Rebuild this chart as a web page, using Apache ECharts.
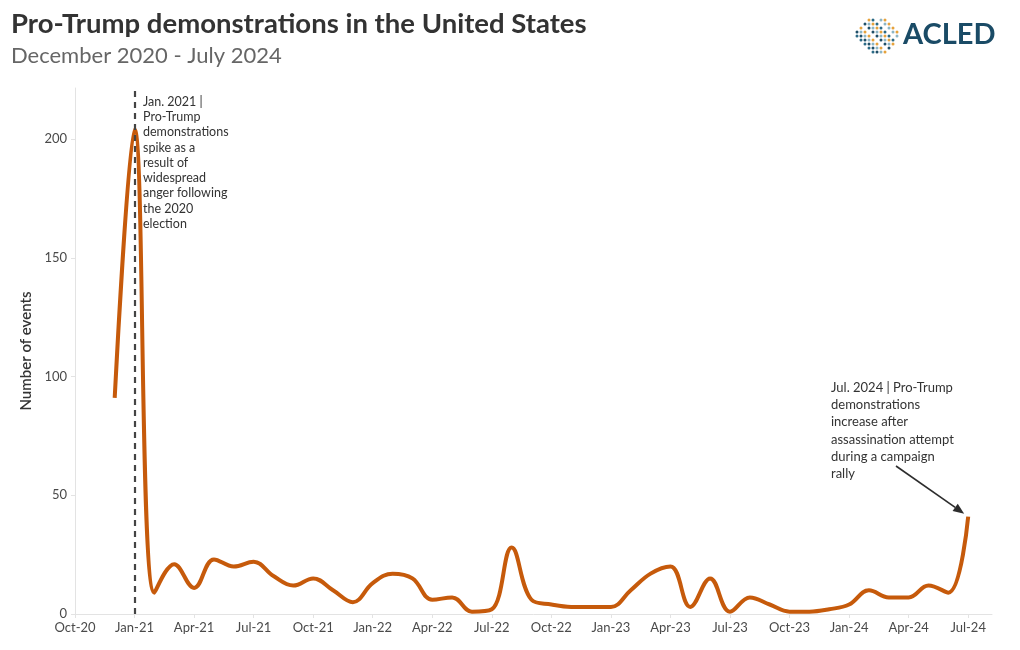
<!DOCTYPE html>
<html>
<head>
<meta charset="utf-8">
<script src="https://cdn.jsdelivr.net/npm/echarts@6/dist/echarts.min.js"></script>
<style>
html,body{margin:0;padding:0;background:#fff;}
#chart{width:1020px;height:650px;}
</style>
</head>
<body>
<div id="chart"></div>
<script>
// Monthly data, December 2020 - July 2024
const months = ['Dec-20',
  'Jan-21','Feb-21','Mar-21','Apr-21','May-21','Jun-21','Jul-21','Aug-21','Sep-21','Oct-21','Nov-21','Dec-21',
  'Jan-22','Feb-22','Mar-22','Apr-22','May-22','Jun-22','Jul-22','Aug-22','Sep-22','Oct-22','Nov-22','Dec-22',
  'Jan-23','Feb-23','Mar-23','Apr-23','May-23','Jun-23','Jul-23','Aug-23','Sep-23','Oct-23','Nov-23','Dec-23',
  'Jan-24','Feb-24','Mar-24','Apr-24','May-24','Jun-24','Jul-24'];
const events = [91,
  204, 9, 21, 11, 23, 20, 22, 16, 12, 15, 10, 5,
  13, 17, 15, 6, 7, 1, 2, 28, 6, 4, 3, 3,
  3, 10, 17, 20, 3, 15, 1, 7, 4, 1, 1, 2,
  4, 10, 7, 7, 12, 9, 41];
// x axis: months counted from Oct-20 (index 0); ticks every 3 months
const tickLabels = ['Oct-20','Jan-21','Apr-21','Jul-21','Oct-21','Jan-22','Apr-22','Jul-22',
  'Oct-22','Jan-23','Apr-23','Jul-23','Oct-23','Jan-24','Apr-24','Jul-24'];
const firstMonthIndex = 2; // Dec-20 relative to Oct-20
const yTicks = [0, 50, 100, 150, 200];

const annotation1 = ['Jan. 2021 |','Pro-Trump','demonstrations','spike as a','result of','widespread','anger following','the 2020','election'];
const annotation2 = ['Jul. 2024 | Pro-Trump','demonstrations','increase after','assassination attempt','during a campaign','rally'];

const FONT = 'Lato, "Open Sans", sans-serif';
const seriesData = events.map((v, i) => [i + firstMonthIndex, v]);

const chart = echarts.init(document.getElementById('chart'), null, {renderer: 'canvas'});

// decorative logo dots
const logoDots = [];
const cols = ['#2b6a86', '#e6a23c', '#8db6c6', '#1f4f68'];
for (let i = 0; i < 11; i++) {
  for (let j = 0; j < 9; j++) {
    const dx = (i - 5) / 5.4, dy = (j - 4) / 4.4;
    if (dx * dx + dy * dy > 1) continue;
    if ((i * 7 + j * 3) % 5 === 0) continue;
    logoDots.push({
      type: 'circle',
      shape: {cx: 877 + (i - 5) * 4, cy: 36 + (j - 4) * 4, r: 1.5},
      style: {fill: cols[(i * 3 + j * 5) % 4]},
      silent: true
    });
  }
}

const option = {
  animation: false,
  backgroundColor: '#ffffff',
  textStyle: {fontFamily: FONT},
  grid: {left: 75, right: 28, top: 88, bottom: 36},
  xAxis: {
    type: 'value',
    min: 0,
    max: 46.2,
    interval: 3,
    axisLine: {show: true, lineStyle: {color: '#e3e3e3', width: 1}},
    axisTick: {show: true, length: 4, lineStyle: {color: '#e3e3e3'}},
    splitLine: {show: false},
    axisLabel: {
      color: '#4a4a4a', fontSize: 13, fontFamily: FONT, margin: 7,
      showMaxLabel: false,
      formatter: v => (v % 3 === 0 && tickLabels[v / 3]) ? tickLabels[v / 3] : ''
    }
  },
  yAxis: {
    type: 'value',
    min: 0,
    max: 221.5,
    interval: 50,
    name: 'Number of events',
    nameLocation: 'middle',
    nameGap: 40,
    nameTextStyle: {color: '#333', fontSize: 15, fontWeight: 600, fontFamily: FONT},
    axisLine: {show: true, lineStyle: {color: '#e3e3e3', width: 1}},
    axisTick: {show: true, length: 4, lineStyle: {color: '#e3e3e3'}},
    splitLine: {show: false},
    axisLabel: {
      color: '#4a4a4a', fontSize: 13, fontFamily: FONT, margin: 8,
      showMaxLabel: false,
      formatter: v => yTicks.indexOf(v) >= 0 ? String(v) : ''
    }
  },
  series: [{
    type: 'line',
    data: seriesData,
    smooth: 0.4,
    showSymbol: false,
    lineStyle: {color: '#c65a0b', width: 4},
    itemStyle: {color: '#c65a0b'},
    markLine: {
      silent: true,
      symbol: ['none', 'none'],
      label: {show: false},
      lineStyle: {color: '#444', type: [6, 5], width: 2.2},
      data: [{xAxis: 3}]
    },
    z: 3
  }],
  graphic: [
    {type: 'text', left: 11, top: 10, style: {text: 'Pro-Trump demonstrations in the United States', fill: '#333', font: 'bold 27.5px ' + FONT}},
    {type: 'text', left: 11, top: 45, style: {text: 'December 2020 - July 2024', fill: '#666', font: '22px ' + FONT}},
    {type: 'text', left: 903, top: 20, style: {text: 'ACLED', fill: '#1a4b66', font: 'bold 29px ' + FONT}},
    {type: 'group', children: logoDots},
    {type: 'text', left: 143, top: 94, style: {text: annotation1.join('\n'), fill: '#333', font: '12.5px ' + FONT, lineHeight: 15.3}},
    {type: 'text', left: 831, top: 379, style: {text: annotation2.join('\n'), fill: '#333', font: '13px ' + FONT, lineHeight: 17.3}}
  ]
};
chart.setOption(option);

// arrow pointing at the July 2024 value
const lastPt = chart.convertToPixel({seriesIndex: 0}, seriesData[seriesData.length - 1]);
const sx = 896, sy = 466;
const ex = lastPt[0] - 4, ey = lastPt[1] - 3;
const ang = Math.atan2(ey - sy, ex - sx);
const ah = 11, aw = 4.5;
const bx = ex - ah * Math.cos(ang), by = ey - ah * Math.sin(ang);
chart.setOption({
  graphic: option.graphic.concat([
    {type: 'line', shape: {x1: sx, y1: sy, x2: bx, y2: by}, style: {stroke: '#2d2d2d', lineWidth: 1.6}, silent: true},
    {type: 'polygon', shape: {points: [[ex, ey],
      [bx + aw * Math.sin(ang), by - aw * Math.cos(ang)],
      [bx - aw * Math.sin(ang), by + aw * Math.cos(ang)]]}, style: {fill: '#2d2d2d'}, silent: true}
  ])
});
</script>
</body>
</html>
